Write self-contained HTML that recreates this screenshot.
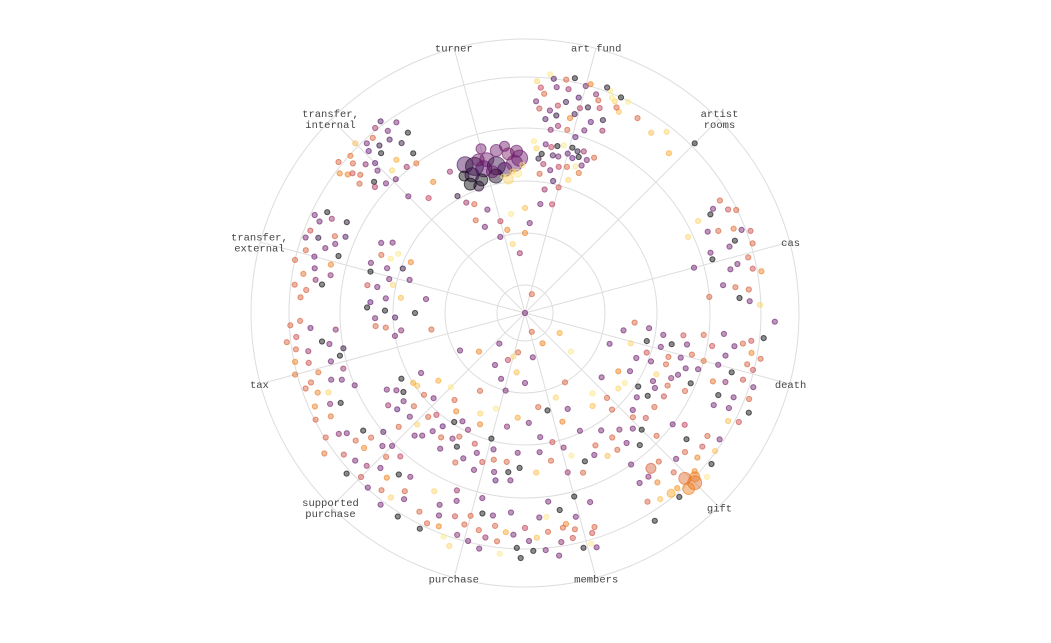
<!DOCTYPE html>
<html><head><meta charset="utf-8"><style>
html,body{margin:0;padding:0;background:#fff;}
svg{display:block;}
text{font-family:"Liberation Mono","DejaVu Sans Mono",monospace;font-size:10.5px;fill:#444;}
</style></head><body>
<svg id="chart" width="1051" height="643" viewBox="0 0 1051 643" xmlns="http://www.w3.org/2000/svg">
<g id="grid"></g>
<g id="pts"></g>
<g id="labels"></g>
</svg>
<script>
const categories = ["turner","art fund","artist rooms","cas","death","gift","members","purchase","supported purchase","tax","transfer, external","transfer, internal"];
const categoryAngles = [-15,15,45,75,105,135,165,195,225,255,285,315];
const ringValues = [28,80,132,185,236,274];
// points: angle(deg clockwise from north), radius value, color value (0-1), size
const pointData = `3,232,.9 5,220,.6 7,236,.2 9,210,.5 11,228,.4 13,200,.7 15,235,.3 17,215,.1 19,225,.6 21,238,.95 23,230,.9 25,222,.85 6,195,.2 10,190,.4 14,205,.15 18,192,.3 22,208,.1 4,205,.55 12,240,0 20,240,.05 8,185,.35 16,183,.25 24,236,0 26,235,.95
4,226,.5 6,240,.95 8,228,.3 10,237,.6 14,222,.2 16,238,.7 18,230,.35 20,218,.5 22,232,.95 24,225,.6 3,212,.3 9,200,.1 15,212,.45 19,202,.25 23,198,.4 13,188,.6 7,204,.3 11,215,.15
4,165,.9 7,170,.3 10,160,.2 13,150,.5 16,172,0 19,155,.95 22,165,.3 6,140,.6 9,125,.4 12,135,.2 15,130,.55 18,140,.9 21,150,.65 8,110,.3 14,112,.5 5,155,.1 11,170,0 17,162,.25 20,172,.4
3,172,.95 6,160,.0 9,168,.5 12,160,.3 15,165,.25 18,170,.1 21,158,.3 24,170,.6 7,150,.45 10,145,.3 13,172,.95 16,152,.6 19,165,.0
-22,160,.2,8 -19,155,.1,9 -16,150,.25,8 -14,158,.3,7 -11,150,.15,9 -8,145,.2,7 -6,160,.35,6 -4,150,.3,8 -2,155,.3,8 -18,140,0,6 -12,140,.05,7 -7,135,.9,5 -3,140,.95,4 -20,135,.1,5 -10,165,.3,6 -24,150,0,5 -15,95,.5 -10,70,.9 -5,60,.4 -20,110,.3 -25,120,.6 0,80,.7 3,90,.3 -28,125,.4
-1,148,.95 -5,142,.9 -9,138,.95 -13,145,.3,6 -17,160,.3,6 -21,148,.15,7 -23,140,.0,6 -3,162,.3,6 -7,168,.3,5 -15,170,.3,5 -28,105,.6 -25,95,.3 -18,80,.3 -12,85,.7 -8,100,.95 0,105,.85
-52,225,.7 -50,215,.6 -48,235,.65 -46,205,.3 -44,225,.25 -42,215,0 -40,200,.8 -38,220,.2 -36,210,.1 -34,230,.3 -49,200,0 -45,240,.85 -41,232,.6 -37,240,.2 -51,240,.6 -47,190,.3 -43,195,.9 -39,188,.4 -35,195,0 -40,150,.5 -35,160,.7 -45,165,.3 -30,135,.1 -28,160,.4
-53,232,.7 -51,222,.55 -49,228,.6 -47,218,.35 -45,212,.25 -43,232,.3 -41,222,.1 -39,238,.4 -37,228,.3 -52,210,.6 -50,196,.45 -44,186,.3 -36,185,.65 -33,215,.0
-64,215,.4 -66,225,.3 -68,205,.6 -70,220,.1 -72,210,.3 -74,228,.6 -76,200,.7 -78,215,.3 -80,225,.65 -82,205,0 -84,220,.6 -67,195,.2 -73,195,0 -79,198,.35 -63,200,.05 -71,232,.3
-65,232,.3 -69,230,.55 -75,218,.3 -77,236,.6 -81,212,.35 -83,232,.6 -63,222,.0 -70,202,.3 -86,225,.6
-62,150,.3 -65,140,.95 -68,155,.6 -70,130,.1 -72,145,.3 -75,160,0 -78,135,.9 -80,150,.3 -83,125,.85 -86,155,.25 -89,140,0 -92,130,.2 -95,150,.6 -74,120,.3 -66,125,.7 -82,100,.3 -90,110,0 -98,125,.35
-64,160,.3 -68,145,.95 -72,162,.3 -76,140,.3 -80,160,.55 -84,140,.3 -88,158,.0 -92,150,.3 -96,140,.6 -100,132,.3
-92,225,.6 -94,215,.3 -96,230,.55 -98,205,0 -100,220,.4 -102,235,.7 -104,200,.3 -106,215,.65 -108,225,.6 -110,195,.3 -112,212,.9 -114,230,.7 -116,205,0 -95,190,.35 -101,185,.1 -107,190,.4 -113,185,.3 -118,220,.65 -97,240,.6
-93,235,.6 -99,232,.6 -103,222,.55 -105,238,.65 -109,232,.6 -111,222,.7 -115,215,.35 -117,235,.6 -99,198,.3 -103,190,.0 -109,205,.3
-122,235,.6 -124,215,.3 -126,200,0 -128,230,.55 -130,210,.7 -132,240,0 -134,220,.4 -136,200,.6 -138,235,.3 -140,215,.7 -142,205,0 -144,228,.9 -146,215,.6 -148,240,0 -125,245,.65 -133,195,.3 -139,190,.5 -145,200,.3 -130,185,.2
-123,222,.35 -127,212,.6 -131,225,.3 -135,232,.55 -137,212,.3 -141,228,.6 -143,240,.3 -147,222,.3 -129,198,.6 -135,188,.3
-118,140,0 -121,150,.3 -124,130,.85 -127,160,.25 -130,145,.6 -133,125,.3 -136,155,.9 -139,135,.5 -142,150,.3 -145,120,.7 -148,160,.3 -120,120,.3 -128,110,.8 -135,105,.95 -141,112,.6 -147,130,0 -150,145,.35 -124,165,.4 -132,170,.6 -138,165,.3
-119,158,.3 -123,145,.0 -126,150,.3 -129,130,.6 -132,155,.3 -137,142,.6 -140,160,.3 -144,140,.25 -146,150,.6 -122,132,.8
-152,225,.6 -154,240,0 -156,210,.3 -158,230,.7 -160,200,.3 -162,245,.9 -164,220,.6 -166,235,.3 -168,205,0 -170,228,.4 -172,215,.6 -174,242,.95 -176,200,.3 -178,235,0 -159,190,.4 -167,190,.3 -175,220,.8 -153,200,.9 -161,215,.55
-155,232,.6 -157,220,.3 -163,232,.35 -165,210,.6 -169,240,.3 -171,205,.3 -173,230,.6 -177,222,.3 -179,245,.0 -160,238,.95 -168,222,.6
-150,125,.3 -153,150,0 -156,110,.9 -159,140,.55 -162,165,.3 -165,130,0 -168,150,.6 -171,115,.35 -174,160,0 -177,140,.3 -155,165,.6 -163,100,.95 -170,170,.25 -158,120,.7 -176,105,.8 -166,80,.3 -172,60,.85 -160,70,.3 -150,90,.6
-152,140,.6 -157,158,.3 -161,148,.3 -164,155,.55 -167,140,.3 -169,162,.3 -173,150,.6 -175,168,.3 -178,155,.0 -154,130,.35
162,225,.6 164,240,.95 166,210,.3 168,230,.55 170,200,0 172,245,.3 174,220,.6 176,205,.3 178,238,0 180,215,.5 161,200,.3 165,190,0 169,215,.7 173,190,.3 177,225,.85 163,245,.3
163,230,.55 167,222,.6 171,232,.35 175,238,.3 179,228,.3 166,242,.0 170,218,.6 174,205,.95
152,150,.6 155,130,.3 158,160,0 161,115,.7 164,140,.35 167,100,0 170,150,.6 173,125,.3 176,160,.85 178,110,.3 160,90,.9 165,165,.4 172,95,.6 156,105,.3
150,165,.85 154,158,.3 162,150,.95 168,132,.55 174,140,.3 160,170,.6
124,220,.6 126,235,.85 128,205,0 130,225,.7 132,245,.95 134,210,.3 136,230,.65,6 138,200,.6 140,240,0 142,215,.7 144,230,.85 146,205,.3 148,245,0 127,185,.3 133,180,.6 139,175,0 145,185,.3 125,195,.5 135,240,.65,7 141,200,.6,5
123,232,.3 127,222,.55 129,240,.0 131,212,.6 133,232,.7 137,218,.6 139,232,.75 143,205,.35 147,225,.6 137,240,.7,6 134,236,.7,5 141,232,.8,4
120,150,.3 123,135,0 126,160,.6 129,120,.9 132,145,.3 135,165,0 138,130,.6 141,150,.35 144,115,.85 147,140,.3 122,110,.7 130,100,.3 140,105,.95 146,165,.6
121,162,.55 124,148,.0 127,140,.3 131,160,.55 134,150,.6 137,158,.3 142,165,.3 145,152,.6 125,122,.95 136,118,.6
96,240,0 98,220,.6 100,230,.7 102,205,.3 104,235,.55 106,215,0 108,240,.3 110,200,.65 112,225,.3 114,245,0 116,210,.3 118,230,.85 97,180,.6 101,165,.3 105,185,.65 109,170,.3 113,180,0 117,160,.6 99,140,.3 103,125,0 107,150,.6 111,135,.3 115,145,.9 119,120,.3 95,110,.6 100,100,.3 106,110,.9 92,250,.3
97,228,.55 99,212,.3 101,240,.6 103,228,.6 105,200,.3 107,228,.55 109,212,.35 111,240,.6 113,210,.0 115,225,.3 117,240,.55 96,200,.3 100,190,.55 104,172,.6 108,182,.3 112,165,.3 116,178,.6 98,160,.55 102,150,.0 106,162,.3 110,150,.6 114,160,.35 118,145,.3 97,125,.3 104,140,.3 108,128,.55 112,120,.3
60,225,.6 62,210,0 64,235,.6 66,200,.3 68,225,.65 70,240,.55 72,215,.3 74,195,0 76,230,.6 78,210,.3 80,240,.7 82,200,.3 84,225,.6 86,215,0 65,180,.9 75,175,.3 85,185,.6 88,235,.9 35,220,.85 38,230,.9 42,215,.8 30,225,.6 45,240,0
61,215,.3 63,228,.55 67,210,.6 69,232,.3 71,222,.0 73,238,.6 77,218,.3 79,232,.55 83,212,.6 87,225,.3 62,196,.9 72,195,.3
0,0,.3 160,20,.6 150,35,.7 120,40,.8 200,50,.5 230,60,.7 -140,40,.3 180,70,.3 20,20,.6
-150,60,.3 -165,45,.9 170,45,.3 150,80,.6 130,60,.95 110,90,.3 190,40,.6 -120,75,.3 -100,95,.6`;
const pointAngles=[],pointRadii=[],pointColors=[],pointSizes=[];
pointData.trim().split(/\s+/).forEach(s=>{const p=s.split(',').map(Number);pointAngles.push(p[0]);pointRadii.push(p[1]);pointColors.push(p[2]);pointSizes.push(p.length>3?p[3]:2.6);});

const NS="http://www.w3.org/2000/svg",cx=525,cy=313,R=274,maxV=274;
const rScale=v=>v/maxV*R;
const pos=(a,r)=>[cx+r*Math.sin(a*Math.PI/180),cy-r*Math.cos(a*Math.PI/180)];
const stops=[[0,0,0,4],[.25,87,16,110],[.5,188,55,84],[.75,249,142,9],[1,252,255,164]];
function inferno(t){t=Math.max(0,Math.min(1,t));for(let i=1;i<stops.length;i++){if(t<=stops[i][0]){const a=stops[i-1],b=stops[i],f=(t-a[0])/(b[0]-a[0]);return`rgb(${[1,2,3].map(k=>Math.round(a[k]+(b[k]-a[k])*f)).join(',')})`;}}}
function mk(t,at){const e=document.createElementNS(NS,t);for(const k in at)e.setAttribute(k,at[k]);return e;}
const grid=document.getElementById('grid');
ringValues.forEach(v=>{const c=mk('circle',{cx:cx,cy:cy,r:rScale(v),fill:'none',stroke:'#ddd','stroke-width':1});


grid.appendChild(c);});
categoryAngles.forEach(a=>{const p=pos(a,R);const l=mk('line',{x1:cx,y1:cy,x2:p[0],y2:p[1],stroke:'#ddd','stroke-width':1});


grid.appendChild(l);});
const pg=document.getElementById('pts');
pointAngles.forEach((a,i)=>{const p=pos(a,rScale(pointRadii[i]));const col=inferno(pointColors[i]);
const c=mk('circle',{cx:p[0].toFixed(1),cy:p[1].toFixed(1),r:pointSizes[i],fill:col,'fill-opacity':0.45,stroke:col,'stroke-opacity':0.6,'stroke-width':1});


pg.appendChild(c);});
const lg=document.getElementById('labels');
categories.forEach((name,i)=>{const a=categoryAngles[i];const p=pos(a,275);
const lines=name.includes(',')?[name.split(',')[0]+',',name.split(',')[1].trim()]:name==="artist rooms"?["artist","rooms"]:name==="supported purchase"?["supported","purchase"]:[name];
const t=mk('text',{x:p[0].toFixed(1),y:(p[1]+4-(lines.length-1)*5.5).toFixed(1),'text-anchor':'middle'});


lines.forEach((ln,j)=>{const ts=mk('tspan',{x:p[0].toFixed(1),dy:j?11:0});ts.textContent=ln;t.appendChild(ts);});
lg.appendChild(t);});
</script>
</body></html>
